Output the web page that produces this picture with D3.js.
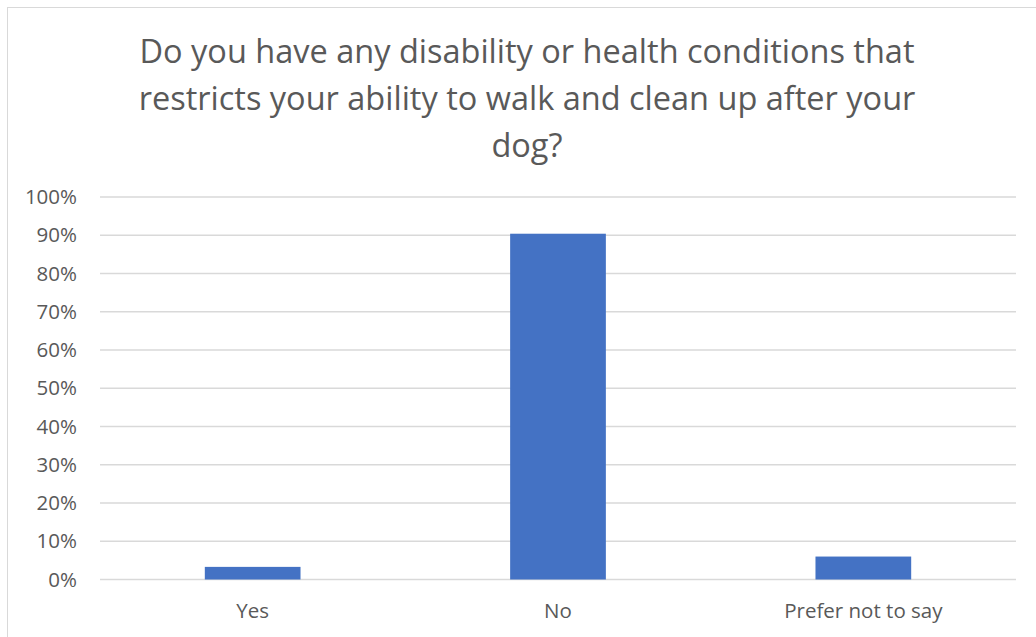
<!DOCTYPE html>
<html><head><meta charset="utf-8">
<script src="https://cdn.jsdelivr.net/npm/d3@7"></script>
<style>body{margin:0;background:#fff}svg{display:block}</style>
</head><body>
<svg id="c" width="1036" height="637"></svg>
<script>
const categories = ["Yes", "No", "Prefer not to say"];
const values = [0.033, 0.904, 0.060];
const yTicks = [0, 0.1, 0.2, 0.3, 0.4, 0.5, 0.6, 0.7, 0.8, 0.9, 1.0];
const titleLines = ["Do you have any disability or health conditions that", "restricts your ability to walk and clean up after your", "dog?"];

(function () {
const svg = d3.select("#c");
const font = "'Open Sans', sans-serif";
const grey = "#595959";

// chart border
svg.append("rect").attr("x", 7.5).attr("y", 7.5).attr("width", 1040).attr("height", 640)
  .attr("fill", "#fff").attr("stroke", "#d9d9d9").attr("stroke-width", 1);

const pLeft = 100, pRight = 1016, pTop = 197, pBottom = 579.5;
const x = d3.scaleBand().domain(categories).range([pLeft, pRight]).padding(0);
const y = d3.scaleLinear().domain([0, 1]).range([pBottom, pTop]);

// title
svg.append("text").attr("x", 527).attr("y", 63).attr("text-anchor", "middle")
  .attr("font-family", font).attr("font-size", 32.5).attr("fill", grey)
  .selectAll("tspan").data(titleLines).join("tspan")
  .attr("x", 527).attr("dy", (d, i) => i === 0 ? 0 : 47).text(d => d);

// grid
svg.append("g").selectAll("line").data(yTicks).join("line")
  .attr("x1", pLeft).attr("x2", pRight)
  .attr("y1", d => y(d)).attr("y2", d => y(d))
  .attr("stroke", "#d9d9d9").attr("stroke-width", 1.3);

// y axis labels
const yAxis = d3.axisLeft(y).tickValues(yTicks).tickFormat(d3.format(".0%")).tickSize(0).tickPadding(23);
const gy = svg.append("g").attr("transform", `translate(${pLeft},0)`).call(yAxis);
gy.select(".domain").remove();
gy.selectAll("text").attr("font-family", font).attr("font-size", 20.5).attr("fill", grey);

// bars
const bw = x.bandwidth() / 3.19;
svg.append("g").selectAll("rect").data(categories).join("rect")
  .attr("x", d => x(d) + x.bandwidth() / 2 - bw / 2)
  .attr("width", bw)
  .attr("y", (d, i) => y(values[i]))
  .attr("height", (d, i) => y(0) - y(values[i]))
  .attr("fill", "#4472c4");

// x axis
const xAxis = d3.axisBottom(x).tickSize(0).tickPadding(24);
const gx = svg.append("g").attr("transform", `translate(0,${pBottom})`).call(xAxis);
gx.select(".domain").remove();
gx.selectAll("text").attr("font-family", font).attr("font-size", 20.5).attr("fill", grey);
})();
</script>
</body></html>
